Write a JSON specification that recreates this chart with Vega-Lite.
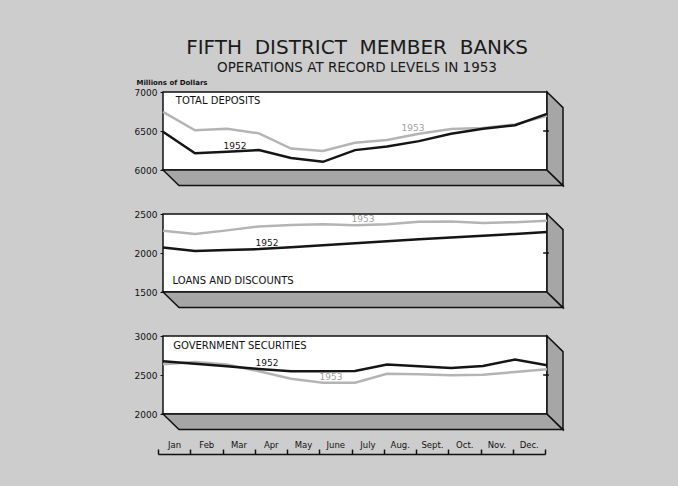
{
  "$schema": "https://vega.github.io/schema/vega-lite/v6.json",
  "autosize": {"type": "none"},
  "padding": {"left": 158, "top": 92, "right": 520, "bottom": 394},
  "background": "#cdcdcd",
  "title": {
    "text": "FIFTH\u00a0\u00a0DISTRICT\u00a0\u00a0MEMBER\u00a0\u00a0BANKS",
    "subtitle": "OPERATIONS AT RECORD LEVELS IN 1953",
    "anchor": "middle", "frame": "group", "dx": 199,
    "font": "DejaVu Sans", "fontSize": 20, "fontWeight": "normal", "color": "#1a1a1a",
    "subtitleFont": "DejaVu Sans", "subtitleFontSize": 13.5, "subtitleColor": "#1a1a1a", "subtitlePadding": 3,
    "offset": 4
  },
  "datasets": {
    "series": [
      {"panel": "dep", "m": 0, "year": "1952", "value": 6490},
      {"panel": "dep", "m": 1, "year": "1952", "value": 6215},
      {"panel": "dep", "m": 2, "year": "1952", "value": 6235, "tag": "1952"},
      {"panel": "dep", "m": 3, "year": "1952", "value": 6255},
      {"panel": "dep", "m": 4, "year": "1952", "value": 6155},
      {"panel": "dep", "m": 5, "year": "1952", "value": 6105},
      {"panel": "dep", "m": 6, "year": "1952", "value": 6255},
      {"panel": "dep", "m": 7, "year": "1952", "value": 6300},
      {"panel": "dep", "m": 8, "year": "1952", "value": 6370},
      {"panel": "dep", "m": 9, "year": "1952", "value": 6465},
      {"panel": "dep", "m": 10, "year": "1952", "value": 6530},
      {"panel": "dep", "m": 11, "year": "1952", "value": 6575},
      {"panel": "dep", "m": 12, "year": "1952", "value": 6720},
      {"panel": "dep", "m": 0, "year": "1953", "value": 6745},
      {"panel": "dep", "m": 1, "year": "1953", "value": 6510},
      {"panel": "dep", "m": 2, "year": "1953", "value": 6530},
      {"panel": "dep", "m": 3, "year": "1953", "value": 6470},
      {"panel": "dep", "m": 4, "year": "1953", "value": 6275},
      {"panel": "dep", "m": 5, "year": "1953", "value": 6245},
      {"panel": "dep", "m": 6, "year": "1953", "value": 6350},
      {"panel": "dep", "m": 7, "year": "1953", "value": 6385},
      {"panel": "dep", "m": 8, "year": "1953", "value": 6465, "tag": "1953"},
      {"panel": "dep", "m": 9, "year": "1953", "value": 6525},
      {"panel": "dep", "m": 10, "year": "1953", "value": 6540},
      {"panel": "dep", "m": 11, "year": "1953", "value": 6585},
      {"panel": "dep", "m": 12, "year": "1953", "value": 6695},
      {"panel": "loan", "m": 0, "year": "1952", "value": 2070},
      {"panel": "loan", "m": 1, "year": "1952", "value": 2025},
      {"panel": "loan", "m": 2, "year": "1952", "value": 2040},
      {"panel": "loan", "m": 3, "year": "1952", "value": 2050, "tag": "1952"},
      {"panel": "loan", "m": 4, "year": "1952", "value": 2075},
      {"panel": "loan", "m": 5, "year": "1952", "value": 2100},
      {"panel": "loan", "m": 6, "year": "1952", "value": 2125},
      {"panel": "loan", "m": 7, "year": "1952", "value": 2150},
      {"panel": "loan", "m": 8, "year": "1952", "value": 2175},
      {"panel": "loan", "m": 9, "year": "1952", "value": 2200},
      {"panel": "loan", "m": 10, "year": "1952", "value": 2220},
      {"panel": "loan", "m": 11, "year": "1952", "value": 2245},
      {"panel": "loan", "m": 12, "year": "1952", "value": 2270},
      {"panel": "loan", "m": 0, "year": "1953", "value": 2285},
      {"panel": "loan", "m": 1, "year": "1953", "value": 2245},
      {"panel": "loan", "m": 2, "year": "1953", "value": 2290},
      {"panel": "loan", "m": 3, "year": "1953", "value": 2340},
      {"panel": "loan", "m": 4, "year": "1953", "value": 2360},
      {"panel": "loan", "m": 5, "year": "1953", "value": 2370},
      {"panel": "loan", "m": 6, "year": "1953", "value": 2355, "tag": "1953"},
      {"panel": "loan", "m": 7, "year": "1953", "value": 2370},
      {"panel": "loan", "m": 8, "year": "1953", "value": 2400},
      {"panel": "loan", "m": 9, "year": "1953", "value": 2405},
      {"panel": "loan", "m": 10, "year": "1953", "value": 2385},
      {"panel": "loan", "m": 11, "year": "1953", "value": 2395},
      {"panel": "loan", "m": 12, "year": "1953", "value": 2415},
      {"panel": "gov", "m": 0, "year": "1952", "value": 2675},
      {"panel": "gov", "m": 1, "year": "1952", "value": 2645},
      {"panel": "gov", "m": 2, "year": "1952", "value": 2612},
      {"panel": "gov", "m": 3, "year": "1952", "value": 2578, "tag": "1952"},
      {"panel": "gov", "m": 4, "year": "1952", "value": 2547},
      {"panel": "gov", "m": 5, "year": "1952", "value": 2547},
      {"panel": "gov", "m": 6, "year": "1952", "value": 2552},
      {"panel": "gov", "m": 7, "year": "1952", "value": 2634},
      {"panel": "gov", "m": 8, "year": "1952", "value": 2612},
      {"panel": "gov", "m": 9, "year": "1952", "value": 2591},
      {"panel": "gov", "m": 10, "year": "1952", "value": 2616},
      {"panel": "gov", "m": 11, "year": "1952", "value": 2698},
      {"panel": "gov", "m": 12, "year": "1952", "value": 2625},
      {"panel": "gov", "m": 0, "year": "1953", "value": 2638},
      {"panel": "gov", "m": 1, "year": "1953", "value": 2668},
      {"panel": "gov", "m": 2, "year": "1953", "value": 2634},
      {"panel": "gov", "m": 3, "year": "1953", "value": 2547},
      {"panel": "gov", "m": 4, "year": "1953", "value": 2453},
      {"panel": "gov", "m": 5, "year": "1953", "value": 2401, "tag": "1953"},
      {"panel": "gov", "m": 6, "year": "1953", "value": 2401},
      {"panel": "gov", "m": 7, "year": "1953", "value": 2517},
      {"panel": "gov", "m": 8, "year": "1953", "value": 2509},
      {"panel": "gov", "m": 9, "year": "1953", "value": 2496},
      {"panel": "gov", "m": 10, "year": "1953", "value": 2504},
      {"panel": "gov", "m": 11, "year": "1953", "value": 2539},
      {"panel": "gov", "m": 12, "year": "1953", "value": 2573}
    ],
    "frame": [
      {"panel": "dep", "part": "floor", "fx": 0, "lo": 6000, "hi": 6000},
      {"panel": "dep", "part": "floor", "fx": 0.5, "lo": 5800, "hi": 6000},
      {"panel": "dep", "part": "floor", "fx": 12, "lo": 5800, "hi": 6000},
      {"panel": "dep", "part": "floor", "fx": 12.5, "lo": 5800, "hi": 5800},
      {"panel": "dep", "part": "side", "fx": 12, "lo": 6000, "hi": 7000},
      {"panel": "dep", "part": "side", "fx": 12.5, "lo": 5800, "hi": 6800},
      {"panel": "loan", "part": "floor", "fx": 0, "lo": 1500, "hi": 1500},
      {"panel": "loan", "part": "floor", "fx": 0.5, "lo": 1300, "hi": 1500},
      {"panel": "loan", "part": "floor", "fx": 12, "lo": 1300, "hi": 1500},
      {"panel": "loan", "part": "floor", "fx": 12.5, "lo": 1300, "hi": 1300},
      {"panel": "loan", "part": "side", "fx": 12, "lo": 1500, "hi": 2500},
      {"panel": "loan", "part": "side", "fx": 12.5, "lo": 1300, "hi": 2300},
      {"panel": "gov", "part": "floor", "fx": 0, "lo": 2000, "hi": 2000},
      {"panel": "gov", "part": "floor", "fx": 0.5, "lo": 1800, "hi": 2000},
      {"panel": "gov", "part": "floor", "fx": 12, "lo": 1800, "hi": 2000},
      {"panel": "gov", "part": "floor", "fx": 12.5, "lo": 1800, "hi": 1800},
      {"panel": "gov", "part": "side", "fx": 12, "lo": 2000, "hi": 3000},
      {"panel": "gov", "part": "side", "fx": 12.5, "lo": 1800, "hi": 2800}
    ]
  },
  "bounds": "flush",
  "spacing": 28,
  "vconcat": [
    {
      "width": 405, "height": 93.6,
      "layer": [
        {"data": {"values": [{}]},
         "mark": {"type": "rect", "fill": "white", "stroke": "#111", "strokeWidth": 1.5},
         "encoding": {
           "x": {"datum": 0, "type": "quantitative", "scale": {"domain": [-0.156, 12.5], "nice": false, "zero": false}, "axis": null},
           "x2": {"datum": 12},
           "y": {"datum": 6000, "type": "quantitative", "scale": {"domain": [5800, 7000], "nice": false, "zero": false},
                 "axis": {"values": [6000, 6500, 7000], "format": "d", "grid": false, "domain": false, "tickSize": 3, "tickColor": "#111", "labelFontSize": 9, "labelColor": "#111", "labelFont": "DejaVu Sans", "labelPadding": 3, "offset": -5, "title": "Millions of Dollars", "titleAngle": 0, "titleAlign": "left", "titleBaseline": "middle", "titleX": -27, "titleY": -10, "titleFontSize": 7, "titleFontWeight": "bold", "titleFont": "DejaVu Sans", "titleColor": "#111"}},
           "y2": {"datum": 7000}
         }},
        {"data": {"name": "frame"}, "transform": [{"filter": "datum.panel == 'dep'"}],
         "mark": {"type": "area", "fill": "#a6a6a6", "stroke": "#111", "strokeWidth": 1.5},
         "encoding": {
           "x": {"field": "fx", "type": "quantitative", "scale": {"domain": [-0.156, 12.5], "nice": false, "zero": false}, "axis": null},
           "y": {"field": "lo", "type": "quantitative", "scale": {"domain": [5800, 7000], "nice": false, "zero": false},
                 "axis": {"values": [6000, 6500, 7000], "format": "d", "grid": false, "domain": false, "tickSize": 3, "tickColor": "#111", "labelFontSize": 9, "labelColor": "#111", "labelFont": "DejaVu Sans", "labelPadding": 3, "offset": -5, "title": "Millions of Dollars", "titleAngle": 0, "titleAlign": "left", "titleBaseline": "middle", "titleX": -27, "titleY": -10, "titleFontSize": 7, "titleFontWeight": "bold", "titleFont": "DejaVu Sans", "titleColor": "#111"}},
           "y2": {"field": "hi"},
           "detail": {"field": "part"}
         }},
        {"data": {"values": [{}]},
         "mark": {"type": "rule", "stroke": "#111", "strokeWidth": 1.5},
         "encoding": {
           "x": {"datum": 11.88, "type": "quantitative", "scale": {"domain": [-0.156, 12.5], "nice": false, "zero": false}, "axis": null},
           "x2": {"datum": 12.06},
           "y": {"datum": 6500, "type": "quantitative", "scale": {"domain": [5800, 7000], "nice": false, "zero": false},
                 "axis": {"values": [6000, 6500, 7000], "format": "d", "grid": false, "domain": false, "tickSize": 3, "tickColor": "#111", "labelFontSize": 9, "labelColor": "#111", "labelFont": "DejaVu Sans", "labelPadding": 3, "offset": -5, "title": "Millions of Dollars", "titleAngle": 0, "titleAlign": "left", "titleBaseline": "middle", "titleX": -27, "titleY": -10, "titleFontSize": 7, "titleFontWeight": "bold", "titleFont": "DejaVu Sans", "titleColor": "#111"}}
         }},
        {"data": {"name": "series"}, "transform": [{"filter": "datum.panel == 'dep' && datum.year == '1953'"}],
         "mark": {"type": "line", "stroke": "#b4b4b4", "strokeWidth": 2.5},
         "encoding": {
           "x": {"field": "m", "type": "quantitative", "scale": {"domain": [-0.156, 12.5], "nice": false, "zero": false}, "axis": null},
           "y": {"field": "value", "type": "quantitative", "scale": {"domain": [5800, 7000], "nice": false, "zero": false},
                 "axis": {"values": [6000, 6500, 7000], "format": "d", "grid": false, "domain": false, "tickSize": 3, "tickColor": "#111", "labelFontSize": 9, "labelColor": "#111", "labelFont": "DejaVu Sans", "labelPadding": 3, "offset": -5, "title": "Millions of Dollars", "titleAngle": 0, "titleAlign": "left", "titleBaseline": "middle", "titleX": -27, "titleY": -10, "titleFontSize": 7, "titleFontWeight": "bold", "titleFont": "DejaVu Sans", "titleColor": "#111"}}
         }},
        {"data": {"name": "series"}, "transform": [{"filter": "datum.panel == 'dep' && datum.year == '1952'"}],
         "mark": {"type": "line", "stroke": "#151515", "strokeWidth": 2.5},
         "encoding": {
           "x": {"field": "m", "type": "quantitative", "scale": {"domain": [-0.156, 12.5], "nice": false, "zero": false}, "axis": null},
           "y": {"field": "value", "type": "quantitative", "scale": {"domain": [5800, 7000], "nice": false, "zero": false},
                 "axis": {"values": [6000, 6500, 7000], "format": "d", "grid": false, "domain": false, "tickSize": 3, "tickColor": "#111", "labelFontSize": 9, "labelColor": "#111", "labelFont": "DejaVu Sans", "labelPadding": 3, "offset": -5, "title": "Millions of Dollars", "titleAngle": 0, "titleAlign": "left", "titleBaseline": "middle", "titleX": -27, "titleY": -10, "titleFontSize": 7, "titleFontWeight": "bold", "titleFont": "DejaVu Sans", "titleColor": "#111"}}
         }},
        {"data": {"name": "series"}, "transform": [{"filter": "datum.panel == 'dep' && datum.tag == '1952'"}],
         "mark": {"type": "text", "fontSize": 9, "font": "DejaVu Sans", "baseline": "middle", "dx": 8, "dy": -6, "color": "#151515"},
         "encoding": {
           "x": {"field": "m", "type": "quantitative", "scale": {"domain": [-0.156, 12.5], "nice": false, "zero": false}, "axis": null},
           "y": {"field": "value", "type": "quantitative", "scale": {"domain": [5800, 7000], "nice": false, "zero": false},
                 "axis": {"values": [6000, 6500, 7000], "format": "d", "grid": false, "domain": false, "tickSize": 3, "tickColor": "#111", "labelFontSize": 9, "labelColor": "#111", "labelFont": "DejaVu Sans", "labelPadding": 3, "offset": -5, "title": "Millions of Dollars", "titleAngle": 0, "titleAlign": "left", "titleBaseline": "middle", "titleX": -27, "titleY": -10, "titleFontSize": 7, "titleFontWeight": "bold", "titleFont": "DejaVu Sans", "titleColor": "#111"}},
           "text": {"field": "tag"}
         }},
        {"data": {"name": "series"}, "transform": [{"filter": "datum.panel == 'dep' && datum.tag == '1953'"}],
         "mark": {"type": "text", "fontSize": 9, "font": "DejaVu Sans", "baseline": "middle", "dx": -6, "dy": -6, "color": "#a0a0a0"},
         "encoding": {
           "x": {"field": "m", "type": "quantitative", "scale": {"domain": [-0.156, 12.5], "nice": false, "zero": false}, "axis": null},
           "y": {"field": "value", "type": "quantitative", "scale": {"domain": [5800, 7000], "nice": false, "zero": false},
                 "axis": {"values": [6000, 6500, 7000], "format": "d", "grid": false, "domain": false, "tickSize": 3, "tickColor": "#111", "labelFontSize": 9, "labelColor": "#111", "labelFont": "DejaVu Sans", "labelPadding": 3, "offset": -5, "title": "Millions of Dollars", "titleAngle": 0, "titleAlign": "left", "titleBaseline": "middle", "titleX": -27, "titleY": -10, "titleFontSize": 7, "titleFontWeight": "bold", "titleFont": "DejaVu Sans", "titleColor": "#111"}},
           "text": {"field": "tag"}
         }},
        {"data": {"values": [{}]},
         "mark": {"type": "text", "text": "TOTAL DEPOSITS", "align": "left", "baseline": "middle", "fontSize": 10, "font": "DejaVu Sans", "color": "#111"},
         "encoding": {
           "x": {"datum": 0.4, "type": "quantitative", "scale": {"domain": [-0.156, 12.5], "nice": false, "zero": false}, "axis": null},
           "y": {"datum": 6885, "type": "quantitative", "scale": {"domain": [5800, 7000], "nice": false, "zero": false},
                 "axis": {"values": [6000, 6500, 7000], "format": "d", "grid": false, "domain": false, "tickSize": 3, "tickColor": "#111", "labelFontSize": 9, "labelColor": "#111", "labelFont": "DejaVu Sans", "labelPadding": 3, "offset": -5, "title": "Millions of Dollars", "titleAngle": 0, "titleAlign": "left", "titleBaseline": "middle", "titleX": -27, "titleY": -10, "titleFontSize": 7, "titleFontWeight": "bold", "titleFont": "DejaVu Sans", "titleColor": "#111"}}
         }}
      ]
    },
    {
      "width": 405, "height": 93.6,
      "layer": [
        {"data": {"values": [{}]},
         "mark": {"type": "rect", "fill": "white", "stroke": "#111", "strokeWidth": 1.5},
         "encoding": {
           "x": {"datum": 0, "type": "quantitative", "scale": {"domain": [-0.156, 12.5], "nice": false, "zero": false}, "axis": null},
           "x2": {"datum": 12},
           "y": {"datum": 1500, "type": "quantitative", "scale": {"domain": [1300, 2500], "nice": false, "zero": false},
                 "axis": {"values": [1500, 2000, 2500], "format": "d", "grid": false, "domain": false, "tickSize": 3, "tickColor": "#111", "labelFontSize": 9, "labelColor": "#111", "labelFont": "DejaVu Sans", "labelPadding": 3, "offset": -5, "title": null}},
           "y2": {"datum": 2500}
         }},
        {"data": {"name": "frame"}, "transform": [{"filter": "datum.panel == 'loan'"}],
         "mark": {"type": "area", "fill": "#a6a6a6", "stroke": "#111", "strokeWidth": 1.5},
         "encoding": {
           "x": {"field": "fx", "type": "quantitative", "scale": {"domain": [-0.156, 12.5], "nice": false, "zero": false}, "axis": null},
           "y": {"field": "lo", "type": "quantitative", "scale": {"domain": [1300, 2500], "nice": false, "zero": false},
                 "axis": {"values": [1500, 2000, 2500], "format": "d", "grid": false, "domain": false, "tickSize": 3, "tickColor": "#111", "labelFontSize": 9, "labelColor": "#111", "labelFont": "DejaVu Sans", "labelPadding": 3, "offset": -5, "title": null}},
           "y2": {"field": "hi"},
           "detail": {"field": "part"}
         }},
        {"data": {"values": [{}]},
         "mark": {"type": "rule", "stroke": "#111", "strokeWidth": 1.5},
         "encoding": {
           "x": {"datum": 11.88, "type": "quantitative", "scale": {"domain": [-0.156, 12.5], "nice": false, "zero": false}, "axis": null},
           "x2": {"datum": 12.06},
           "y": {"datum": 2000, "type": "quantitative", "scale": {"domain": [1300, 2500], "nice": false, "zero": false},
                 "axis": {"values": [1500, 2000, 2500], "format": "d", "grid": false, "domain": false, "tickSize": 3, "tickColor": "#111", "labelFontSize": 9, "labelColor": "#111", "labelFont": "DejaVu Sans", "labelPadding": 3, "offset": -5, "title": null}}
         }},
        {"data": {"name": "series"}, "transform": [{"filter": "datum.panel == 'loan' && datum.year == '1953'"}],
         "mark": {"type": "line", "stroke": "#b4b4b4", "strokeWidth": 2.5},
         "encoding": {
           "x": {"field": "m", "type": "quantitative", "scale": {"domain": [-0.156, 12.5], "nice": false, "zero": false}, "axis": null},
           "y": {"field": "value", "type": "quantitative", "scale": {"domain": [1300, 2500], "nice": false, "zero": false},
                 "axis": {"values": [1500, 2000, 2500], "format": "d", "grid": false, "domain": false, "tickSize": 3, "tickColor": "#111", "labelFontSize": 9, "labelColor": "#111", "labelFont": "DejaVu Sans", "labelPadding": 3, "offset": -5, "title": null}}
         }},
        {"data": {"name": "series"}, "transform": [{"filter": "datum.panel == 'loan' && datum.year == '1952'"}],
         "mark": {"type": "line", "stroke": "#151515", "strokeWidth": 2.5},
         "encoding": {
           "x": {"field": "m", "type": "quantitative", "scale": {"domain": [-0.156, 12.5], "nice": false, "zero": false}, "axis": null},
           "y": {"field": "value", "type": "quantitative", "scale": {"domain": [1300, 2500], "nice": false, "zero": false},
                 "axis": {"values": [1500, 2000, 2500], "format": "d", "grid": false, "domain": false, "tickSize": 3, "tickColor": "#111", "labelFontSize": 9, "labelColor": "#111", "labelFont": "DejaVu Sans", "labelPadding": 3, "offset": -5, "title": null}}
         }},
        {"data": {"name": "series"}, "transform": [{"filter": "datum.panel == 'loan' && isValid(datum.tag)"}],
         "mark": {"type": "text", "fontSize": 9, "font": "DejaVu Sans", "baseline": "middle", "dx": 8, "dy": -6},
         "encoding": {
           "x": {"field": "m", "type": "quantitative", "scale": {"domain": [-0.156, 12.5], "nice": false, "zero": false}, "axis": null},
           "y": {"field": "value", "type": "quantitative", "scale": {"domain": [1300, 2500], "nice": false, "zero": false},
                 "axis": {"values": [1500, 2000, 2500], "format": "d", "grid": false, "domain": false, "tickSize": 3, "tickColor": "#111", "labelFontSize": 9, "labelColor": "#111", "labelFont": "DejaVu Sans", "labelPadding": 3, "offset": -5, "title": null}},
           "text": {"field": "tag"},
           "color": {"field": "year", "type": "nominal", "scale": {"domain": ["1952", "1953"], "range": ["#151515", "#a0a0a0"]}, "legend": null}
         }},
        {"data": {"values": [{}]},
         "mark": {"type": "text", "text": "LOANS AND DISCOUNTS", "align": "left", "baseline": "middle", "fontSize": 10, "font": "DejaVu Sans", "color": "#111"},
         "encoding": {
           "x": {"datum": 0.3, "type": "quantitative", "scale": {"domain": [-0.156, 12.5], "nice": false, "zero": false}, "axis": null},
           "y": {"datum": 1645, "type": "quantitative", "scale": {"domain": [1300, 2500], "nice": false, "zero": false},
                 "axis": {"values": [1500, 2000, 2500], "format": "d", "grid": false, "domain": false, "tickSize": 3, "tickColor": "#111", "labelFontSize": 9, "labelColor": "#111", "labelFont": "DejaVu Sans", "labelPadding": 3, "offset": -5, "title": null}}
         }}
      ]
    },
    {
      "width": 405, "height": 93.6,
      "layer": [
        {"data": {"values": [{}]},
         "mark": {"type": "rect", "fill": "white", "stroke": "#111", "strokeWidth": 1.5},
         "encoding": {
           "x": {"datum": 0, "type": "quantitative", "scale": {"domain": [-0.156, 12.5], "nice": false, "zero": false}, "axis": null},
           "x2": {"datum": 12},
           "y": {"datum": 2000, "type": "quantitative", "scale": {"domain": [1800, 3000], "nice": false, "zero": false},
                 "axis": {"values": [2000, 2500, 3000], "format": "d", "grid": false, "domain": false, "tickSize": 3, "tickColor": "#111", "labelFontSize": 9, "labelColor": "#111", "labelFont": "DejaVu Sans", "labelPadding": 3, "offset": -5, "title": null}},
           "y2": {"datum": 3000}
         }},
        {"data": {"name": "frame"}, "transform": [{"filter": "datum.panel == 'gov'"}],
         "mark": {"type": "area", "fill": "#a6a6a6", "stroke": "#111", "strokeWidth": 1.5},
         "encoding": {
           "x": {"field": "fx", "type": "quantitative", "scale": {"domain": [-0.156, 12.5], "nice": false, "zero": false}, "axis": null},
           "y": {"field": "lo", "type": "quantitative", "scale": {"domain": [1800, 3000], "nice": false, "zero": false},
                 "axis": {"values": [2000, 2500, 3000], "format": "d", "grid": false, "domain": false, "tickSize": 3, "tickColor": "#111", "labelFontSize": 9, "labelColor": "#111", "labelFont": "DejaVu Sans", "labelPadding": 3, "offset": -5, "title": null}},
           "y2": {"field": "hi"},
           "detail": {"field": "part"}
         }},
        {"data": {"values": [{}]},
         "mark": {"type": "rule", "stroke": "#111", "strokeWidth": 1.5},
         "encoding": {
           "x": {"datum": 11.88, "type": "quantitative", "scale": {"domain": [-0.156, 12.5], "nice": false, "zero": false}, "axis": null},
           "x2": {"datum": 12.06},
           "y": {"datum": 2500, "type": "quantitative", "scale": {"domain": [1800, 3000], "nice": false, "zero": false},
                 "axis": {"values": [2000, 2500, 3000], "format": "d", "grid": false, "domain": false, "tickSize": 3, "tickColor": "#111", "labelFontSize": 9, "labelColor": "#111", "labelFont": "DejaVu Sans", "labelPadding": 3, "offset": -5, "title": null}}
         }},
        {"data": {"name": "series"}, "transform": [{"filter": "datum.panel == 'gov' && datum.year == '1953'"}],
         "mark": {"type": "line", "stroke": "#b4b4b4", "strokeWidth": 2.5},
         "encoding": {
           "x": {"field": "m", "type": "quantitative", "scale": {"domain": [-0.156, 12.5], "nice": false, "zero": false}, "axis": null},
           "y": {"field": "value", "type": "quantitative", "scale": {"domain": [1800, 3000], "nice": false, "zero": false},
                 "axis": {"values": [2000, 2500, 3000], "format": "d", "grid": false, "domain": false, "tickSize": 3, "tickColor": "#111", "labelFontSize": 9, "labelColor": "#111", "labelFont": "DejaVu Sans", "labelPadding": 3, "offset": -5, "title": null}}
         }},
        {"data": {"name": "series"}, "transform": [{"filter": "datum.panel == 'gov' && datum.year == '1952'"}],
         "mark": {"type": "line", "stroke": "#151515", "strokeWidth": 2.5},
         "encoding": {
           "x": {"field": "m", "type": "quantitative", "scale": {"domain": [-0.156, 12.5], "nice": false, "zero": false}, "axis": null},
           "y": {"field": "value", "type": "quantitative", "scale": {"domain": [1800, 3000], "nice": false, "zero": false},
                 "axis": {"values": [2000, 2500, 3000], "format": "d", "grid": false, "domain": false, "tickSize": 3, "tickColor": "#111", "labelFontSize": 9, "labelColor": "#111", "labelFont": "DejaVu Sans", "labelPadding": 3, "offset": -5, "title": null}}
         }},
        {"data": {"name": "series"}, "transform": [{"filter": "datum.panel == 'gov' && isValid(datum.tag)"}],
         "mark": {"type": "text", "fontSize": 9, "font": "DejaVu Sans", "baseline": "middle", "dx": 8, "dy": -6},
         "encoding": {
           "x": {"field": "m", "type": "quantitative", "scale": {"domain": [-0.156, 12.5], "nice": false, "zero": false}, "axis": null},
           "y": {"field": "value", "type": "quantitative", "scale": {"domain": [1800, 3000], "nice": false, "zero": false},
                 "axis": {"values": [2000, 2500, 3000], "format": "d", "grid": false, "domain": false, "tickSize": 3, "tickColor": "#111", "labelFontSize": 9, "labelColor": "#111", "labelFont": "DejaVu Sans", "labelPadding": 3, "offset": -5, "title": null}},
           "text": {"field": "tag"},
           "color": {"field": "year", "type": "nominal", "scale": {"domain": ["1952", "1953"], "range": ["#151515", "#a0a0a0"]}, "legend": null}
         }},
        {"data": {"values": [{}]},
         "mark": {"type": "text", "text": "GOVERNMENT SECURITIES", "align": "left", "baseline": "middle", "fontSize": 10, "font": "DejaVu Sans", "color": "#111"},
         "encoding": {
           "x": {"datum": 0.32, "type": "quantitative", "scale": {"domain": [-0.156, 12.5], "nice": false, "zero": false}, "axis": null},
           "y": {"datum": 2872, "type": "quantitative", "scale": {"domain": [1800, 3000], "nice": false, "zero": false},
                 "axis": {"values": [2000, 2500, 3000], "format": "d", "grid": false, "domain": false, "tickSize": 3, "tickColor": "#111", "labelFontSize": 9, "labelColor": "#111", "labelFont": "DejaVu Sans", "labelPadding": 3, "offset": -5, "title": null}}
         }}
      ]
    },
    {
      "width": 387, "height": 1,
      "data": {"values": [{}]},
      "mark": {"type": "point", "opacity": 0},
      "encoding": {
        "x": {"datum": 0, "type": "quantitative", "scale": {"domain": [0, 12], "nice": false, "zero": false},
              "axis": {"orient": "top", "values": [0, 1, 2, 3, 4, 5, 6, 7, 8, 9, 10, 11, 12],
                       "labelExpr": "datum.value < 12 ? ['Jan','Feb','Mar','Apr','May','June','July','Aug.','Sept.','Oct.','Nov.','Dec.'][datum.value] : ''",
                       "labelOffset": 16, "labelFlush": false, "labelOverlap": false, "labelBound": false,
                       "tickSize": 5, "tickColor": "#111", "tickWidth": 1.5, "domainColor": "#111", "domainWidth": 1.5,
                       "labelFontSize": 8.5, "labelFont": "DejaVu Sans", "labelColor": "#111", "labelPadding": 0,
                       "grid": false, "title": null, "offset": 4}}
      }
    }
  ],
  "config": {"view": {"stroke": null}, "font": "DejaVu Sans"}
}
